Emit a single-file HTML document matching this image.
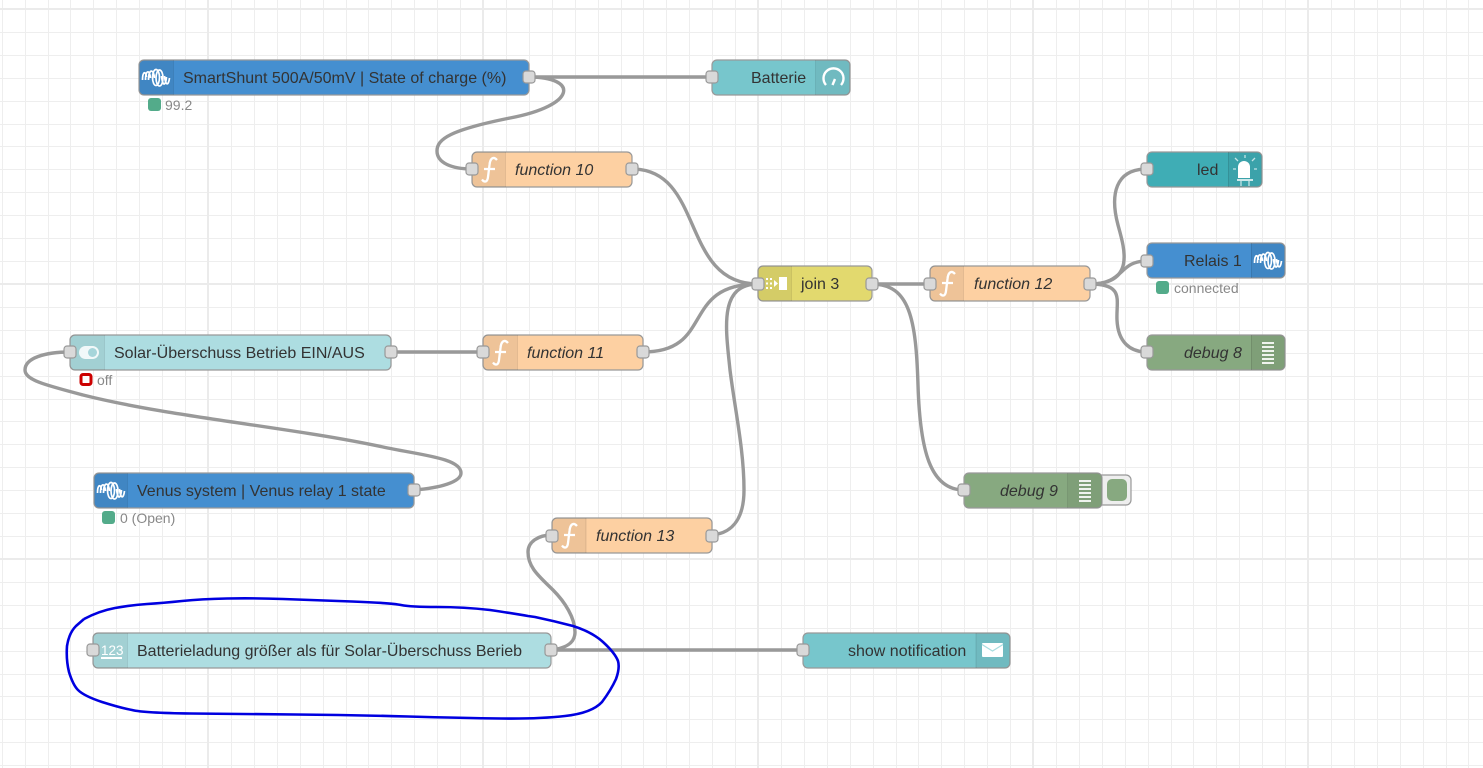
<!DOCTYPE html>
<html><head><meta charset="utf-8"><title>Flow</title>
<style>
html,body{margin:0;padding:0;background:#fff;width:1483px;height:768px;overflow:hidden}
svg{display:block}
text{font-family:"Liberation Sans",Arial,sans-serif;font-size:16px;fill:#333}
.i{font-style:italic}
.s{font-size:14px;fill:#888}
.n{stroke:#999;stroke-width:1.2}
.b{fill:#000;fill-opacity:.06}
.sep{stroke:#000;stroke-opacity:.1;stroke-width:1}
.p{fill:#d9d9d9;stroke:#999;stroke-width:1.2}
.w{fill:none;stroke:#999;stroke-width:3.4}
.ic{fill:none;stroke:#fff;stroke-width:2.4}
</style></head><body>
<svg width="1483" height="768" viewBox="0 0 1483 768" xmlns="http://www.w3.org/2000/svg">
<defs>
<g id="coil" fill="none" stroke="#fff" stroke-width="1.700">
<path d="M1 12C1 4 4 2 5 9M4 12C4 2 8 1 9 10M7 12C7 1 12 0 13 10"/>
<ellipse cx="14.500" cy="9.500" rx="3.500" ry="8"/>
<ellipse cx="18" cy="10" rx="3.500" ry="8"/>
<path d="M20 8C21 18 24 19 25 9M23 8C24 18 27 18 28 10"/>
</g>
<g id="fn"><path d="M25 8C21 3.500 18 7 17.500 13L16 25C15.500 30 12.500 31 10 27.500M12 17H23" fill="none" stroke="#fff" stroke-width="2.300"/></g>
<g id="dbg" stroke="#fff" stroke-width="1.700"><path d="M0 1H12M0 5H12M0 9H12M0 13H12M0 17H12M0 21H12"/></g>
</defs>
<rect width="1483" height="768" fill="#fff"/>
<path shape-rendering="crispEdges" stroke="#eee" stroke-width="1" fill="none" d="M2.500 0V768M25.500 0V768M48.500 0V768M70.500 0V768M93.500 0V768M116.500 0V768M139.500 0V768M162.500 0V768M185.500 0V768M231.500 0V768M254.500 0V768M277.500 0V768M300.500 0V768M323.500 0V768M346.500 0V768M368.500 0V768M391.500 0V768M414.500 0V768M437.500 0V768M460.500 0V768M506.500 0V768M529.500 0V768M552.500 0V768M575.500 0V768M598.500 0V768M621.500 0V768M643.500 0V768M666.500 0V768M689.500 0V768M712.500 0V768M735.500 0V768M781.500 0V768M804.500 0V768M827.500 0V768M850.500 0V768M873.500 0V768M896.500 0V768M918.500 0V768M941.500 0V768M964.500 0V768M987.500 0V768M1010.500 0V768M1056.500 0V768M1079.500 0V768M1102.500 0V768M1125.500 0V768M1148.500 0V768M1171.500 0V768M1193.500 0V768M1216.500 0V768M1239.500 0V768M1262.500 0V768M1285.500 0V768M1331.500 0V768M1354.500 0V768M1377.500 0V768M1400.500 0V768M1423.500 0V768M1446.500 0V768M1468.500 0V768M0 32.500H1483M0 55.500H1483M0 78.500H1483M0 101.500H1483M0 124.500H1483M0 146.500H1483M0 169.500H1483M0 192.500H1483M0 215.500H1483M0 238.500H1483M0 261.500H1483M0 307.500H1483M0 330.500H1483M0 353.500H1483M0 376.500H1483M0 399.500H1483M0 421.500H1483M0 444.500H1483M0 467.500H1483M0 490.500H1483M0 513.500H1483M0 536.500H1483M0 582.500H1483M0 605.500H1483M0 628.500H1483M0 651.500H1483M0 674.500H1483M0 696.500H1483M0 719.500H1483M0 742.500H1483M0 765.500H1483"/>
<path shape-rendering="crispEdges" stroke="#ebebeb" stroke-width="2" fill="none" d="M208 0V768M483 0V768M758 0V768M1033 0V768M1308 0V768M0 9H1483M0 284H1483M0 559H1483"/>

<!-- wires -->
<path class="w" d="M529 77H712"/>
<path class="w" d="M529 77C578 77 578 105 510 118C450 130 437 139 437 151C437 163 452 169 472 169"/>
<path class="w" d="M632 169C705 169 680 284 758 284"/>
<path class="w" d="M643 352C715 352 680 284 758 284"/>
<path class="w" d="M712 535C735 533 744 515 744 490C744 450 735 410 730 370C726 330 718 284 758 284"/>
<path class="w" d="M391 352H483"/>
<path class="w" d="M414 490C440 488 461 482 461 473C461 458 420 455 383 447C290 427 170 417 83 395C45 385 25 380 25 370C25 358 45 352 70 352"/>
<path class="w" d="M551 650H803"/>
<path class="w" d="M551 650C568 648 575 642 575 632C575 618 565 602 553 590C540 577 528 568 528 552C528 542 538 535 552 535"/>
<path class="w" d="M872 284H930"/>
<path class="w" d="M872 284C910 284 916 320 918 385C920 450 930 490 964 490"/>
<path class="w" d="M1090 284C1135 284 1125 250 1118 225C1110 195 1115 169 1147 169"/>
<path class="w" d="M1090 284C1125 284 1118 261 1147 261"/>
<path class="w" d="M1090 284C1125 284 1116 300 1117 320C1118 342 1130 352 1147 352"/>

<!-- SmartShunt -->
<rect class="n" x="139" y="60" width="390" height="35" rx="5" fill="#458fd0"/>
<path class="b" d="M144 60H173V95H144a5 5 0 0 1-5-5V65a5 5 0 0 1 5-5z"/><path class="sep" d="M173.500 60V95"/>
<use href="#coil" x="141.500" y="68"/>
<text x="183" y="83">SmartShunt 500A/50mV | State of charge (%)</text>
<rect class="p" x="523" y="71" width="12" height="12" rx="3"/>
<rect x="148" y="98" width="13" height="13" rx="3" fill="#53ab8a"/>
<text class="s" x="165" y="110">99.2</text>

<!-- Batterie -->
<rect class="n" x="712" y="60" width="138" height="35" rx="5" fill="#77c6cc"/>
<path class="b" d="M816 60H845a5 5 0 0 1 5 5V90a5 5 0 0 1-5 5H816z"/><path class="sep" d="M815.500 60V95"/>
<path class="ic" d="M826 85A10 10 0 1 1 841 85M832.500 85L835 79"/>
<text x="751" y="83">Batterie</text>
<rect class="p" x="706" y="71" width="12" height="12" rx="3"/>

<!-- function 10 -->
<rect class="n" x="472" y="152" width="160" height="35" rx="5" fill="#fdd0a2"/>
<path class="b" d="M477 152H505V187H477a5 5 0 0 1-5-5V157a5 5 0 0 1 5-5z"/><path class="sep" d="M505.500 152V187"/>
<use href="#fn" x="472" y="152"/>
<text class="i" x="515" y="175">function 10</text>
<rect class="p" x="466" y="163" width="12" height="12" rx="3"/><rect class="p" x="626" y="163" width="12" height="12" rx="3"/>

<!-- led -->
<rect class="n" x="1147" y="152" width="115" height="35" rx="5" fill="#3fadb5"/>
<path class="b" d="M1228 152H1257a5 5 0 0 1 5 5V182a5 5 0 0 1-5 5H1228z"/><path class="sep" d="M1228.500 152V187"/>
<path d="M1238 178V167a6 6 0 0 1 12 0V178z" fill="#fff"/>
<path d="M1237 180H1253" stroke="#fff" stroke-width="1.500"/>
<path d="M1241 181V186M1249 181V186M1245 155V158M1235 158L1238 161M1255 158L1252 161M1233 169H1236M1254 169H1257" stroke="#fff" stroke-opacity=".7" stroke-width="1.300" fill="none"/>
<text x="1197" y="175">led</text>
<rect class="p" x="1141" y="163" width="12" height="12" rx="3"/>

<!-- Relais 1 -->
<rect class="n" x="1147" y="243" width="138" height="35" rx="5" fill="#458fd0"/>
<path class="b" d="M1251 243H1280a5 5 0 0 1 5 5V273a5 5 0 0 1-5 5H1251z"/><path class="sep" d="M1251.500 243V278"/>
<use href="#coil" x="1253.500" y="251"/>
<text x="1184" y="266">Relais 1</text>
<rect class="p" x="1141" y="255" width="12" height="12" rx="3"/>
<rect x="1156" y="281" width="13" height="13" rx="3" fill="#53ab8a"/>
<text class="s" x="1174" y="293">connected</text>

<!-- join 3 -->
<rect class="n" x="758" y="266" width="114" height="35" rx="5" fill="#e2d96e"/>
<path class="b" d="M763 266H791V301H763a5 5 0 0 1-5-5V271a5 5 0 0 1 5-5z"/><path class="sep" d="M791.500 266V301"/>
<path d="M766 278h2v2h-2zM770 278h2v2h-2zM766 282.500h2v2h-2zM770 282.500h2v2h-2zM766 287h2v2h-2zM770 287h2v2h-2zM774 280l4 3.500-4 3.500zM779 277h8v13h-8z" fill="#fff"/>
<text x="801" y="289">join 3</text>
<rect class="p" x="752" y="278" width="12" height="12" rx="3"/><rect class="p" x="866" y="278" width="12" height="12" rx="3"/>

<!-- function 12 -->
<rect class="n" x="930" y="266" width="160" height="35" rx="5" fill="#fdd0a2"/>
<path class="b" d="M935 266H963V301H935a5 5 0 0 1-5-5V271a5 5 0 0 1 5-5z"/><path class="sep" d="M963.500 266V301"/>
<use href="#fn" x="930" y="266"/>
<text class="i" x="974" y="289">function 12</text>
<rect class="p" x="924" y="278" width="12" height="12" rx="3"/><rect class="p" x="1084" y="278" width="12" height="12" rx="3"/>

<!-- debug 8 -->
<rect class="n" x="1147" y="335" width="138" height="35" rx="5" fill="#87a980"/>
<path class="b" d="M1251 335H1280a5 5 0 0 1 5 5V365a5 5 0 0 1-5 5H1251z"/><path class="sep" d="M1251.500 335V370"/>
<use href="#dbg" x="1262" y="342"/>
<text class="i" x="1184" y="358">debug 8</text>
<rect class="p" x="1141" y="346" width="12" height="12" rx="3"/>

<!-- Solar -->
<rect class="n" x="70" y="335" width="321" height="35" rx="5" fill="#addde1"/>
<path class="b" d="M75 335H104V370H75a5 5 0 0 1-5-5V340a5 5 0 0 1 5-5z"/><path class="sep" d="M104.500 335V370"/>
<rect x="79" y="346" width="20" height="13" rx="6.500" fill="#fff" fill-opacity=".85"/><circle cx="92.500" cy="352.500" r="4.500" fill="#a6d5da"/>
<text x="114" y="358">Solar-Überschuss Betrieb EIN/AUS</text>
<rect class="p" x="64" y="346" width="12" height="12" rx="3"/><rect class="p" x="385" y="346" width="12" height="12" rx="3"/>
<rect x="81" y="374.500" width="10" height="10" rx="2" fill="#fff" stroke="#c00" stroke-width="3"/>
<text class="s" x="97" y="385">off</text>

<!-- function 11 -->
<rect class="n" x="483" y="335" width="160" height="35" rx="5" fill="#fdd0a2"/>
<path class="b" d="M488 335H517V370H488a5 5 0 0 1-5-5V340a5 5 0 0 1 5-5z"/><path class="sep" d="M517.500 335V370"/>
<use href="#fn" x="483" y="335"/>
<text class="i" x="527" y="358">function 11</text>
<rect class="p" x="477" y="346" width="12" height="12" rx="3"/><rect class="p" x="637" y="346" width="12" height="12" rx="3"/>

<!-- Venus -->
<rect class="n" x="94" y="473" width="320" height="35" rx="5" fill="#458fd0"/>
<path class="b" d="M99 473H127V508H99a5 5 0 0 1-5-5V478a5 5 0 0 1 5-5z"/><path class="sep" d="M127.500 473V508"/>
<use href="#coil" x="96.500" y="481"/>
<text x="137" y="496">Venus system | Venus relay 1 state</text>
<rect class="p" x="408" y="484" width="12" height="12" rx="3"/>
<rect x="102" y="511" width="13" height="13" rx="3" fill="#53ab8a"/>
<text class="s" x="120" y="523">0 (Open)</text>

<!-- debug 9 -->
<rect x="1096" y="475" width="35" height="30" rx="5" fill="#eee" stroke="#999" stroke-width="1.2"/>
<rect x="1107" y="479" width="20" height="22" rx="5" fill="#87a980"/>
<rect class="n" x="964" y="473" width="138" height="35" rx="5" fill="#87a980"/>
<path class="b" d="M1068 473H1097a5 5 0 0 1 5 5V503a5 5 0 0 1-5 5H1068z"/><path class="sep" d="M1067.500 473V508"/>
<use href="#dbg" x="1079" y="480"/>
<text class="i" x="1000" y="496">debug 9</text>
<rect class="p" x="958" y="484" width="12" height="12" rx="3"/>

<!-- function 13 -->
<rect class="n" x="552" y="518" width="160" height="35" rx="5" fill="#fdd0a2"/>
<path class="b" d="M557 518H586V553H557a5 5 0 0 1-5-5V523a5 5 0 0 1 5-5z"/><path class="sep" d="M586 518V553"/>
<use href="#fn" x="552" y="518"/>
<text class="i" x="596" y="541">function 13</text>
<rect class="p" x="546" y="530" width="12" height="12" rx="3"/><rect class="p" x="706" y="530" width="12" height="12" rx="3"/>

<!-- Batterieladung -->
<rect class="n" x="93" y="633" width="458" height="35" rx="5" fill="#addde1"/>
<path class="b" d="M98 633H127V668H98a5 5 0 0 1-5-5V638a5 5 0 0 1 5-5z"/><path class="sep" d="M127.500 633V668"/>
<text x="101" y="655" style="font-size:13.500px;fill:#fff">123</text>
<rect x="101" y="657" width="21" height="2" fill="#fff"/>
<text x="137" y="656">Batterieladung größer als für Solar-Überschuss Berieb</text>
<rect class="p" x="87" y="644" width="12" height="12" rx="3"/><rect class="p" x="545" y="644" width="12" height="12" rx="3"/>

<!-- show notification -->
<rect class="n" x="803" y="633" width="207" height="35" rx="5" fill="#77c6cc"/>
<path class="b" d="M976 633H1005a5 5 0 0 1 5 5V663a5 5 0 0 1-5 5H976z"/><path class="sep" d="M976 633V668"/>
<rect x="982" y="643" width="21" height="14" rx="1" fill="#fff"/>
<path d="M982 644.500L992.500 651L1003 644.500" fill="none" stroke="#a8dde0" stroke-width="1.200"/>
<text x="848" y="656">show notification</text>
<rect class="p" x="797" y="644" width="12" height="12" rx="3"/>

<!-- hand-drawn circle -->
<path fill="none" stroke="#0000e0" stroke-width="2.600" stroke-linejoin="round" d="M84 619Q99 611 115 608Q131 605 147 604Q163 603 182 601Q201 599 227 598.500Q253 598 283 599Q313 600 352 601.500Q392 603 401 605Q411 607 437 607Q464 607 490 610Q517 614 528 616L535 617Q554 621 573 626Q592 632 603 642Q615 653 618 661Q620 668 616 679Q611 690 602 702Q592 713 565 716Q539 719 501 718.500Q464 718 408 716.500Q351 715 295 714.500Q238 714 191 713.500Q144 713 132 710Q121 708 102 702Q84 696 78 690Q73 685 69 672Q66 660 67 646Q69 633 76 626Q84 619 84 619"/>
</svg>
</body></html>
